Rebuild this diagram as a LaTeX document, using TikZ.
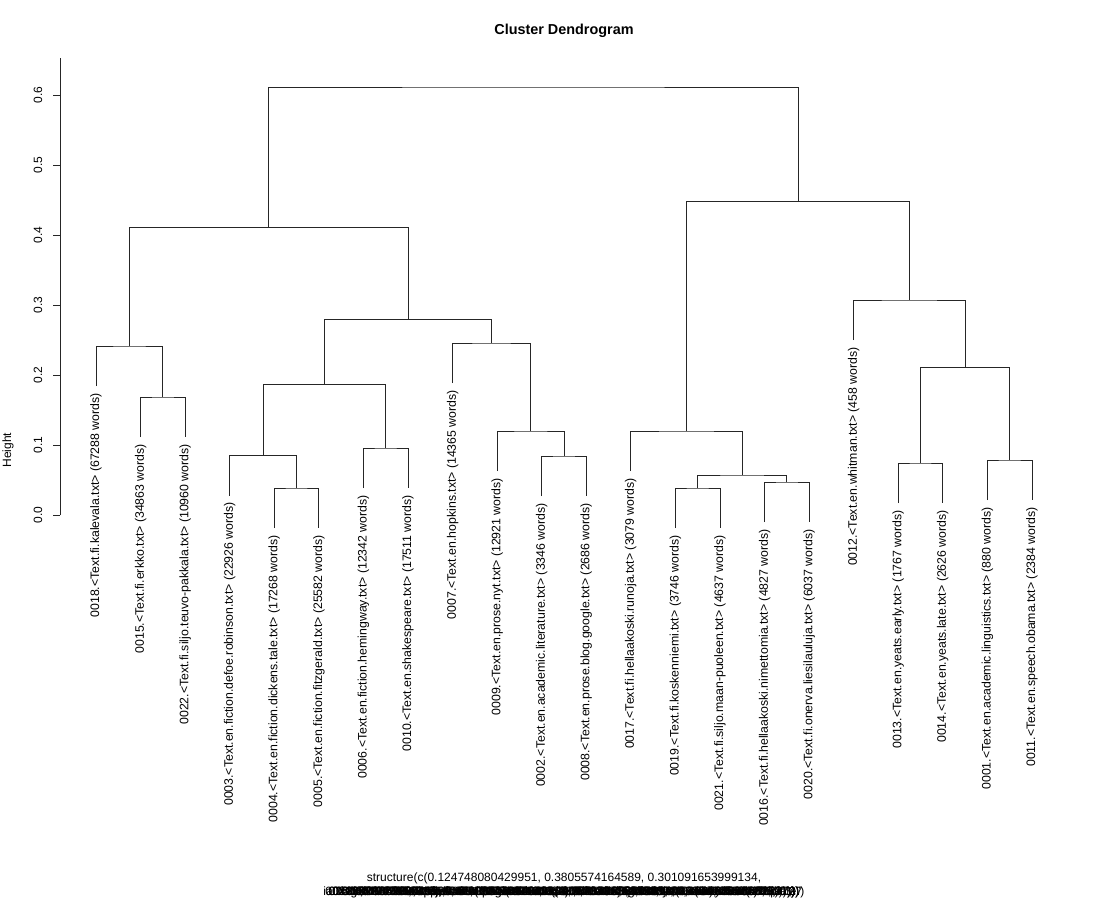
\documentclass[tikz,border=0pt]{standalone}
\usepackage{fontspec}
\setmainfont{Liberation Sans}
\begin{document}
\begin{tikzpicture}[x=1pt,y=-1pt,
  tree/.style={draw=black!85, line width=0.9pt},
  axisline/.style={draw=black!85, line width=0.9pt},
  leaf/.style={rotate=90, anchor=east, inner sep=0pt, font=\fontsize{12.3}{14}\selectfont},
  ticklab/.style={rotate=90, anchor=center, inner sep=0pt, font=\fontsize{12}{14}\selectfont},
  xlab/.style={anchor=base, inner sep=0pt, font=\fontsize{12}{14}\selectfont},
  titlestyle/.style={anchor=center, inner sep=0pt, font=\fontsize{14.4}{16}\selectfont\bfseries}]
\useasboundingbox[fill=white] (0,0) rectangle (1100,900);

% title and axis label
\node[titlestyle] (title) at (564,30.5) {Cluster Dendrogram};
\node[ticklab] (ylab) at (8,450) {Height};

% y axis
\coordinate (axtop) at (60,58);
\coordinate (axbot) at (60,515);
\draw[axisline] (axbot) -- (axtop);
\foreach \v in {0,...,6}{
  \coordinate (tk\v) at (60,515-70*\v);
  \coordinate (tke\v) at (53,515-70*\v);
  \draw[axisline] (tk\v) -- (tke\v);
  \node[ticklab] (tl\v) at (38,515-70*\v) {0.\v};
}

% leaf bottoms
\coordinate (l1) at (96.0,386);
\coordinate (l2) at (140.6,437);
\coordinate (l3) at (185.1,437);
\coordinate (l4) at (229.7,495.5);
\coordinate (l5) at (274.3,528);
\coordinate (l6) at (318.9,528);
\coordinate (l7) at (363.4,488);
\coordinate (l8) at (408.0,488);
\coordinate (l9) at (452.6,383);
\coordinate (l10) at (497.1,471);
\coordinate (l11) at (541.7,496);
\coordinate (l12) at (586.3,496);
\coordinate (l13) at (630.8,471);
\coordinate (l14) at (675.4,528);
\coordinate (l15) at (720.0,528);
\coordinate (l16) at (764.6,522);
\coordinate (l17) at (809.1,522);
\coordinate (l18) at (853.7,340);
\coordinate (l19) at (898.3,503);
\coordinate (l20) at (942.8,503);
\coordinate (l21) at (987.4,500);
\coordinate (l22) at (1032.0,500);

% leaf labels
\node[leaf] (n1) at (96.0,393) {0018.<Text.fi.kalevala.txt> (67288 words)};
\node[leaf] (n2) at (140.6,444) {0015.<Text.fi.erkko.txt> (34863 words)};
\node[leaf] (n3) at (185.1,444) {0022.<Text.fi.siljo.teuvo-pakkala.txt> (10960 words)};
\node[leaf] (n4) at (229.7,502) {0003.<Text.en.fiction.defoe.robinson.txt> (22926 words)};
\node[leaf] (n5) at (274.3,535) {0004.<Text.en.fiction.dickens.tale.txt> (17268 words)};
\node[leaf] (n6) at (318.9,535) {0005.<Text.en.fiction.fitzgerald.txt> (25582 words)};
\node[leaf] (n7) at (363.4,495) {0006.<Text.en.fiction.hemingway.txt> (12342 words)};
\node[leaf] (n8) at (408.0,495) {0010.<Text.en.shakespeare.txt> (17511 words)};
\node[leaf] (n9) at (452.6,390) {0007.<Text.en.hopkins.txt> (14365 words)};
\node[leaf] (n10) at (497.1,478) {0009.<Text.en.prose.nyt.txt> (12921 words)};
\node[leaf] (n11) at (541.7,503) {0002.<Text.en.academic.literature.txt> (3346 words)};
\node[leaf] (n12) at (586.3,503) {0008.<Text.en.prose.blog.google.txt> (2686 words)};
\node[leaf] (n13) at (630.8,478) {0017.<Text.fi.hellaakoski.runoja.txt> (3079 words)};
\node[leaf] (n14) at (675.4,535) {0019.<Text.fi.koskenniemi.txt> (3746 words)};
\node[leaf] (n15) at (720.0,535) {0021.<Text.fi.siljo.maan-puoleen.txt> (4637 words)};
\node[leaf] (n16) at (764.6,529) {0016.<Text.fi.hellaakoski.nimettomia.txt> (4827 words)};
\node[leaf] (n17) at (809.1,529) {0020.<Text.fi.onerva.liesilauluja.txt> (6037 words)};
\node[leaf] (n18) at (853.7,347) {0012.<Text.en.whitman.txt> (458 words)};
\node[leaf] (n19) at (898.3,510) {0013.<Text.en.yeats.early.txt> (1767 words)};
\node[leaf] (n20) at (942.8,510) {0014.<Text.en.yeats.late.txt> (2626 words)};
\node[leaf] (n21) at (987.4,507) {0001.<Text.en.academic.linguistics.txt> (880 words)};
\node[leaf] (n22) at (1032.0,507) {0011.<Text.en.speech.obama.txt> (2384 words)};

% merge points
\coordinate (C) at (162.9,397);
\coordinate (B) at (129.4,346);
\coordinate (G) at (296.6,488);
\coordinate (F) at (263.1,455.5);
\coordinate (H) at (385.7,448);
\coordinate (E) at (324.4,384.5);
\coordinate (K) at (564.0,456);
\coordinate (J) at (530.6,431);
\coordinate (I) at (491.6,343);
\coordinate (D) at (408.0,319.5);
\coordinate (A) at (268.7,227.5);
\coordinate (O) at (697.7,488);
\coordinate (P) at (786.9,482);
\coordinate (N) at (742.3,475);
\coordinate (M) at (686.5,431);
\coordinate (S) at (920.6,463);
\coordinate (T) at (1009.7,460);
\coordinate (R) at (965.1,367.5);
\coordinate (Q) at (909.4,300);
\coordinate (L) at (798.0,201.5);
\coordinate (root) at (533.3,87);

% connectors
\draw[tree] (l2) |- (C) -| (l3);
\draw[tree] (l1) |- (B) -| (C);
\draw[tree] (l5) |- (G) -| (l6);
\draw[tree] (l4) |- (F) -| (G);
\draw[tree] (l7) |- (H) -| (l8);
\draw[tree] (F) |- (E) -| (H);
\draw[tree] (l11) |- (K) -| (l12);
\draw[tree] (l10) |- (J) -| (K);
\draw[tree] (l9) |- (I) -| (J);
\draw[tree] (E) |- (D) -| (I);
\draw[tree] (B) |- (A) -| (D);
\draw[tree] (l14) |- (O) -| (l15);
\draw[tree] (l16) |- (P) -| (l17);
\draw[tree] (O) |- (N) -| (P);
\draw[tree] (l13) |- (M) -| (N);
\draw[tree] (l19) |- (S) -| (l20);
\draw[tree] (l21) |- (T) -| (l22);
\draw[tree] (S) |- (R) -| (T);
\draw[tree] (l18) |- (Q) -| (R);
\draw[tree] (M) |- (L) -| (Q);
\draw[tree] (A) |- (root) -| (L);

% x label (overprinted deparse lines)
\node[xlab] (xl1) at (564,881) {structure(c(0.124748080429951, 0.3805574164589, 0.301091653999134,};
\node[xlab] (xl2a) at (564,895) {ia0=3L, 0.29855309353061, 0.24769144065813, 0.3361618502386, method = "complete")};
\node[xlab] (xl2b) at (564,895) {0.211834521087405, 0.371190466245523, 0.282349155070837, 0.254468903127791)))};
\node[xlab] (xl2c) at (564,895) {Size = 22L, Labels = c("0001.<Text.en.academic.linguistics.txt> (880 words)", "};
\node[xlab] (xl2d) at (564,895) {"0012.<Text.en.whitman.txt> (458 words)", "0013.<Text.en.yeats.early.txt> (1767};
\node[xlab] (xl2e) at (564,895) {0.39018853607112, 0.412035760923461, 0.275561813304879, 0.188902146053337,};
\node[xlab] (xl2f) at (564,895) {Diag = FALSE, Upper = FALSE, method = "euclidean", call = dist(x = m), class = "dist"))};
\node[xlab] (xl2g) at (564,895) {0.304873620548181, 0.35120784421853, 0.19763002134508, 0.33404175521226, 0.2};
\node[xlab] (xl2h) at (564,895) {0.256031958219617, 0.3364017813549, 0.290876044751012, 0.318804226547139, 0.37};
\node[xlab] (xl2i) at (564,895) {"0021.<Text.fi.siljo.maan-puoleen.txt> (4637 words)", "0016.<Text.fi.hellaakoski.ni};
\node[xlab] (xl2j) at (564,895) {0.339212866031829, 0.258127494062951, 0.417723050869402, 0.22963358815)))};
\node[xlab] (xl2k) at (564,895) {"0005.<Text.en.fiction.fitzgerald.txt> (25582 words)", "0006.<Text.en.fiction.h};
\node[xlab] (xl2l) at (564,895) {0.316578802293057, 0.276203151749318, 0.30112963570461, 0.2899164053612, 0.3))};
\end{tikzpicture}
\end{document}
